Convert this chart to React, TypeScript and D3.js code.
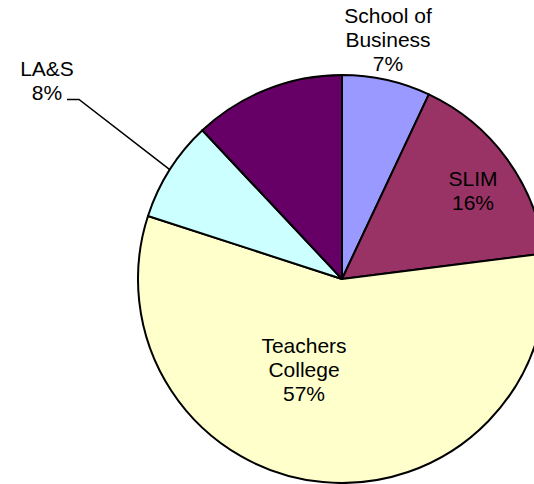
import React from "react";
import * as d3 from "d3";

const categories = ["School of Business", "SLIM", "Teachers College", "LA&S", "Other"];
const values = [7, 16, 57, 8, 12];
const colors = ["#9999FF", "#993366", "#FFFFCC", "#CCFFFF", "#660066"];
const labelLines = [["School of", "Business", "7%"], ["SLIM", "16%"], ["Teachers", "College", "57%"], ["LA&S", "8%"], []];

const W = 534, H = 484;
const cx = 342, cy = 279, R = 204;
const FONT = 21;
const LH = 24;

// label anchor positions (center x, first baseline y)
const labelPos: [number, number][] = [[388, 23], [473, 186], [304, 353], [47, 76], [0, 0]];

export default function App() {
  const pie = d3.pie<number>().sort(null).startAngle(0).endAngle(2 * Math.PI);
  const arcs = pie(values);
  const arc = d3.arc<d3.PieArcDatum<number>>().innerRadius(0).outerRadius(R);
  // LA&S leader line endpoint on arc
  const la = arcs[3];
  const mid = (la.startAngle + la.endAngle) / 2;
  const ex = cx + R * Math.sin(mid);
  const ey = cy - R * Math.cos(mid);
  return (
    <svg width={W} height={H} style={{ position: "absolute", left: 0, top: 0, background: "#fff" }}
      fontFamily="'Liberation Sans', Arial, sans-serif">
      <g transform={`translate(${cx},${cy})`}>
        {arcs.map((a, i) => (
          <path key={i} d={arc(a) || ""} fill={colors[i]} stroke="#000" strokeWidth={2} strokeLinejoin="round" />
        ))}
      </g>
      <polyline points={`67,99.5 79,99.5 ${ex},${ey}`} fill="none" stroke="#000" strokeWidth={1.5} />
      {labelLines.map((lines, i) => (
        <text key={i} textAnchor="middle" fontSize={FONT} fill="#000">
          {lines.map((l, j) => (
            <tspan key={j} x={labelPos[i][0]} y={labelPos[i][1] + j * LH}>{l}</tspan>
          ))}
        </text>
      ))}
    </svg>
  );
}
